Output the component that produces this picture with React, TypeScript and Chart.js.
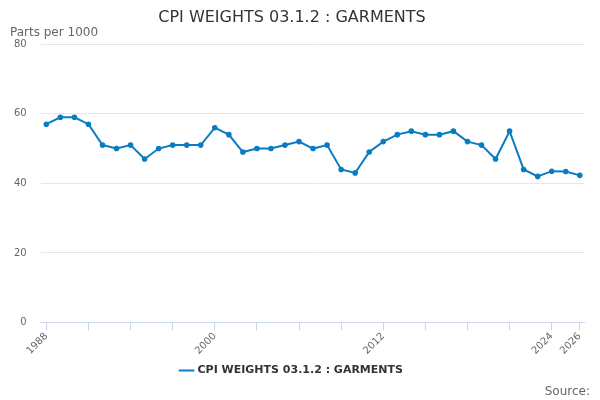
import React, { useEffect, useRef } from "react";
import { Chart, registerables } from "chart.js";
Chart.register(...registerables);

const years = Array.from({ length: 39 }, (_, i) => 1988 + i);
const values = [57, 59, 59, 57, 51, 50, 51, 47, 50, 51, 51, 51, 56, 54, 49, 50, 50, 51, 52, 50, 51, 44, 43, 49, 52, 54, 55, 54, 54, 55, 52, 51, 47, 55, 44, 42, 43.5, 43.4, 42.3];
const labeledYears = [1988, 2000, 2012, 2024, 2026];
const tickYears = [1988, 1991, 1994, 1997, 2000, 2003, 2006, 2009, 2012, 2015, 2018, 2021, 2024, 2026];
const seriesName = "CPI WEIGHTS 03.1.2 : GARMENTS";

export default function App() {
  const ref = useRef<HTMLCanvasElement>(null);
  useEffect(() => {
    const font = "'DejaVu Sans', sans-serif";
    Chart.defaults.font.family = font;
    const chart = new Chart(ref.current!, {
      type: "line",
      data: {
        datasets: [{
          label: seriesName,
          data: years.map((y, i) => ({ x: y, y: values[i] })),
          borderColor: "#0a7cc1",
          backgroundColor: "#0a7cc1",
          borderWidth: 2,
          pointRadius: 1.8,
          pointHoverRadius: 3,
          tension: 0,
        }],
      },
      options: {
        animation: false,
        responsive: false,
        layout: { padding: { left: 0, right: 16, top: 0, bottom: 14 } },
        plugins: {
          title: { display: true, text: seriesName, color: "#333", font: { size: 16, weight: "normal" }, padding: { top: 8, bottom: 17 } },
          legend: {
            position: "bottom",
            labels: { usePointStyle: true, pointStyle: "line", color: "#333", font: { size: 11, weight: "bold" }, padding: 8 },
          },
          tooltip: { enabled: false },
        },
        scales: {
          x: {
            type: "linear",
            min: 1987.6,
            max: 2026.3,
            afterBuildTicks: (s: any) => { s.ticks = tickYears.map((v) => ({ value: v })); },
            ticks: {
              color: "#666",
              font: { size: 10 },
              maxRotation: 45,
              minRotation: 45,
              autoSkip: false,
              padding: 0,
              callback: (v: any) => (labeledYears.includes(Number(v)) ? String(v) : ""),
            },
            grid: { display: true, drawOnChartArea: false, tickLength: 8, color: "#ccd6eb" },
            border: { color: "#ccd6eb" },
          },
          y: {
            min: 0,
            max: 80,
            ticks: { stepSize: 20, color: "#666", font: { size: 10 }, padding: 14 },
            grid: { color: "#e6e6e6", drawTicks: false },
            border: { display: false },
          },
        },
      },
      plugins: [{
        id: "extras",
        afterDraw: (c: any) => {
          const ctx = c.ctx;
          ctx.save();
          ctx.fillStyle = "#666";
          ctx.font = `12px ${font}`;
          ctx.textAlign = "left";
          ctx.textBaseline = "alphabetic";
          ctx.fillText("Parts per 1000", 10, 36);
          ctx.textAlign = "right";
          ctx.fillText("Source:", 590, 395);
          ctx.restore();
        },
      }],
    });
    return () => chart.destroy();
  }, []);
  return <canvas ref={ref} width={600} height={400} style={{ position: "absolute", left: 0, top: 0 }} />;
}
